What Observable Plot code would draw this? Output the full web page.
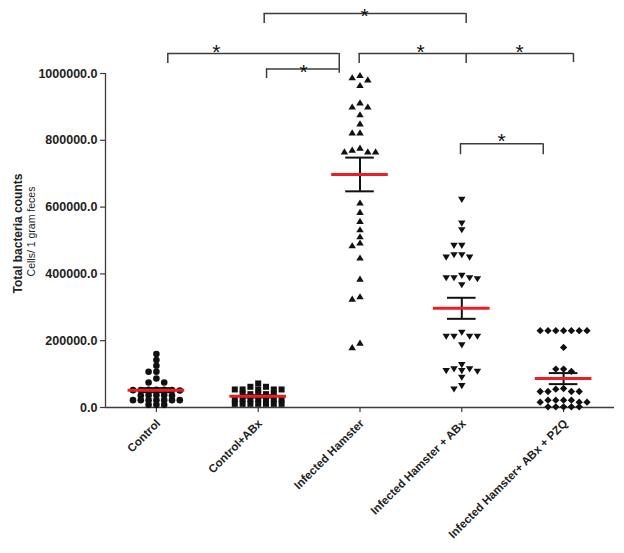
<!DOCTYPE html>
<html>
<head>
<meta charset="utf-8">
<script src="https://cdn.jsdelivr.net/npm/d3@7"></script>
<script src="https://cdn.jsdelivr.net/npm/@observablehq/plot@0.6"></script>
<style>
html, body { margin: 0; padding: 0; background: #fff; }
#chart { width: 624px; height: 553px; }
</style>
</head>
<body>
<div id="chart"></div>
<script>
// ---------- data ----------
const categories = ["Control", "Control+ABx", "Infected Hamster", "Infected Hamster + ABx", "Infected Hamster+ ABx + PZQ"];

const controlValues = [160000, 142000, 125000, 107000, 107000, 87000, 75000, 75000,
  53000, 53000, 53000, 52000, 52000, 52000, 51000,
  37000, 37000, 37000, 36000, 36000,
  22000, 22000, 22000, 22000, 22000, 22000, 22000,
  8000, 8000, 8000];

const controlAbxValues = [72000, 62000, 62000,
  54000, 54000, 54000, 54000, 54000,
  40000, 40000, 40000, 40000, 40000,
  25000, 25000, 25000, 25000, 25000, 25000, 25000,
  11000, 11000, 11000, 11000, 11000, 11000, 11000];

const infectedValues = [994600, 987700, 981500, 964600, 912700, 900000, 900000, 876800,
  849800, 822800, 822800, 777000, 771000, 766000, 766000, 766000,
  612900, 584700, 557700, 532800, 511800, 493000, 484900, 448000,
  385000, 331900, 325000, 193100, 179900];

const infectedAbxValues = [622800, 551700, 531900, 484900, 484900, 457000, 457000, 449800, 449800,
  395000, 388000, 388000, 388000, 385000, 367000,
  225000, 212900, 212900, 212900, 212900, 187000,
  128000, 115000, 115000, 110000, 110000, 108000, 90000, 65000, 55000];

const infectedAbxPzqValues = [230000, 230000, 230000, 230000, 230000, 230000, 230000,
  180000, 115000, 115000, 108000,
  57000, 55000, 48000, 48000, 48000, 48000,
  22000, 22000, 22000, 22000, 16000, 16000, 16000,
  2000, 2000, 2000, 2000, 2000];

const groupMeans = [52000, 33500, 697700, 297000, 86500];
const groupSem = [6000, 3500, 50500, 31500, 16500];

const yTicks = [0, 200000, 400000, 600000, 800000, 1000000];
const yTickLabels = ["0.0", "200000.0", "400000.0", "600000.0", "800000.0", "1000000.0"];

// significance brackets (x in category index units, y in counts)
const bracketX1 = [1.059, 0.112, 1.082, 1.992, 3.043, 2.987];
const bracketX2 = [3.043, 1.796, 1.796, 3.043, 4.097, 3.800];
const bracketY  = [1179600, 1059700, 1013500, 1059700, 1059700, 789800];
const dropX      = [1.059, 3.043, 0.112, 1.796, 1.082, 1.992, 3.043, 4.097, 2.987, 3.800];
const dropTop    = [1179600, 1179600, 1059700, 1059700, 1013500, 1059700, 1059700, 1059700, 789800, 789800];
const dropBottom = [1149600, 1149600, 1029700, 1000600, 984700, 1029700, 1029700, 1032700, 756800, 756800];
const starX = [2.044, 0.590, 1.445, 2.594, 3.567, 3.390];
const starY = [1186500, 1079500, 1019500, 1079500, 1079500, 814700];

// ---------- layout ----------
const W = 624, H = 553;
const marginLeft = 105, marginRight = 10, marginTop = 73, marginBottom = 146;
const xDomain = [-0.5, 4.5];
const yDomain = [0, 1000000];
const pxPerX = (W - marginLeft - marginRight) / (xDomain[1] - xDomain[0]);
const pxPerY = (H - marginTop - marginBottom) / (yDomain[1] - yDomain[0]);
const colStep = 7.8 / pxPerX;       // horizontal spacing of scatter columns
const hit = 4.5 / pxPerY;           // vertical collision distance
const capHalf = 14.3 / pxPerX;
const meanHalf = 28.3 / pxPerX;

// column-scatter layout (greedy swarm on integer columns)
function swarm(values, gi) {
  const placed = [];
  return values.slice().sort((a, b) => b - a).map(v => {
    for (let n = 0; ; n++) {
      const k = n === 0 ? 0 : (n % 2 ? -(n + 1) / 2 : n / 2);
      if (!placed.some(p => p.k === k && Math.abs(p.v - v) < hit)) {
        placed.push({k, v});
        return {x: gi + k * colStep, y: v};
      }
    }
  });
}

const triUp = {draw(ctx, size) { const r = Math.sqrt(size / Math.PI);
  ctx.moveTo(0, -r); ctx.lineTo(1.1 * r, 0.8 * r); ctx.lineTo(-1.1 * r, 0.8 * r); ctx.closePath(); }};
const triDown = {draw(ctx, size) { const r = Math.sqrt(size / Math.PI);
  ctx.moveTo(0, r); ctx.lineTo(1.1 * r, -0.8 * r); ctx.lineTo(-1.1 * r, -0.8 * r); ctx.closePath(); }};

const groups = [
  {values: controlValues, symbol: "circle", r: 3.3},
  {values: controlAbxValues, symbol: "square", r: 3.4},
  {values: infectedValues, symbol: triUp, r: 3.4},
  {values: infectedAbxValues, symbol: triDown, r: 3.4},
  {values: infectedAbxPzqValues, symbol: "diamond2", r: 3.3}
];

const idx = categories.map((d, i) => i);
const ink = "#111";
const axisInk = "#3c3c3c";
const textInk = "#222";

const marks = [
  // axes
  Plot.ruleX([xDomain[0]], {y1: 0, y2: 1000000, stroke: axisInk, strokeWidth: 1.3}),
  Plot.ruleY([0], {x1: xDomain[0], x2: xDomain[1], stroke: axisInk, strokeWidth: 1.3}),
  Plot.ruleY(yTicks, {y: d => d, x1: xDomain[0] - 5 / pxPerX, x2: xDomain[0], stroke: axisInk, strokeWidth: 1.2}),
  Plot.ruleX(idx, {x: d => d, y1: 0, y2: -5 / pxPerY, stroke: axisInk, strokeWidth: 1.2}),
  Plot.text(yTicks, {x: xDomain[0], y: d => d, text: (d, i) => yTickLabels[i], textAnchor: "end", dx: -8,
    fontSize: 12.5, fontWeight: "bold", fill: textInk}),
  Plot.text(categories, {x: (d, i) => i, y: 0, text: d => d, rotate: -45, textAnchor: "end", dx: 2, dy: 14,
    fontSize: 11.5, fontWeight: "bold", fill: textInk}),
  Plot.text(["Total bacteria counts"], {frameAnchor: "left", textAnchor: "middle", rotate: -90, dx: -87, dy: -7,
    fontSize: 12, fontWeight: "bold", fill: textInk}),
  Plot.text(["Cells/ 1 gram feces"], {frameAnchor: "left", textAnchor: "middle", rotate: -90, dx: -74, dy: -9,
    fontSize: 10.5, fill: textInk}),
  // significance brackets
  Plot.ruleY(bracketY, {y: d => d, x1: (d, i) => bracketX1[i], x2: (d, i) => bracketX2[i], stroke: axisInk, strokeWidth: 1.5}),
  Plot.ruleX(dropX, {x: d => d, y1: (d, i) => dropTop[i], y2: (d, i) => dropBottom[i], stroke: axisInk, strokeWidth: 1.5}),
  Plot.text(starX, {x: d => d, y: (d, i) => starY[i], text: () => "*", fontSize: 21, dy: 5.5, fill: ink}),
  // points
  ...groups.map((g, gi) => Plot.dot(swarm(g.values, gi), {x: "x", y: "y", r: g.r, symbol: g.symbol, fill: ink, stroke: "none"})),
  // SEM bars
  Plot.ruleX(idx, {x: d => d, y1: (d, i) => groupMeans[i] - groupSem[i], y2: (d, i) => groupMeans[i] + groupSem[i], stroke: ink, strokeWidth: 2}),
  Plot.ruleY(idx, {y: (d, i) => groupMeans[i] + groupSem[i], x1: d => d - capHalf, x2: d => d + capHalf, stroke: ink, strokeWidth: 2}),
  Plot.ruleY(idx, {y: (d, i) => groupMeans[i] - groupSem[i], x1: d => d - capHalf, x2: d => d + capHalf, stroke: ink, strokeWidth: 2}),
  // means
  Plot.ruleY(idx, {y: (d, i) => groupMeans[i], x1: d => d - meanHalf, x2: d => d + meanHalf, stroke: "#ee1c24", strokeWidth: 3})
];

const chart = Plot.plot({
  width: W, height: H,
  marginLeft, marginRight, marginTop, marginBottom,
  x: {domain: xDomain, axis: null},
  y: {domain: yDomain, axis: null},
  style: {fontFamily: "Liberation Sans, Arial, Helvetica, sans-serif", background: "#fff", overflow: "visible"},
  marks
});
document.getElementById("chart").appendChild(chart);
</script>
</body>
</html>
